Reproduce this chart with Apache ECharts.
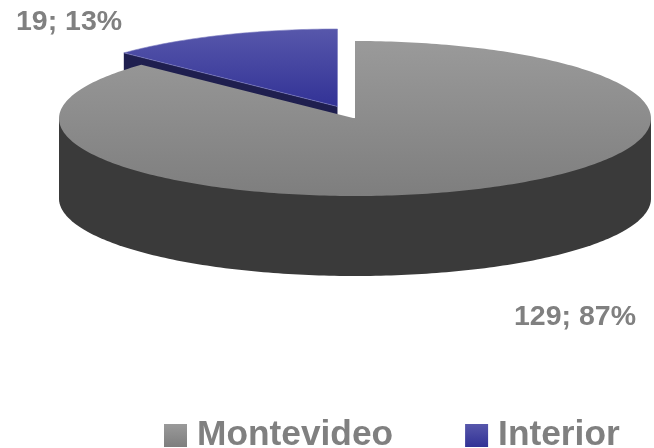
<!DOCTYPE html>
<html>
<head>
<meta charset="utf-8">
<style>html,body{margin:0;padding:0;background:#fff}#c{width:654px;height:448px}</style>
<script src="https://cdn.jsdelivr.net/npm/echarts@6/dist/echarts.min.js"></script>
</head>
<body>
<div id="c"></div>
<script>
var categories = ['Montevideo', 'Interior'];
var values = [129, 19];
var total = values[0] + values[1];

var CX = 355, CY = 118.5, RX = 296, RY = 77.5, DEPTH = 80;
var FONT = '"Liberation Sans", Arial, sans-serif';
var TEXT = '#808080';

function pt(deg, dx, dy) {
  var a = deg * Math.PI / 180;
  return [CX + dx + RX * Math.sin(a), CY + dy - RY * Math.cos(a)];
}
function arc(from, to, dx, dy) {
  var out = [], n = Math.ceil(Math.abs(to - from));
  for (var i = 0; i <= n; i++) out.push(pt(from + (to - from) * i / n, dx, dy));
  return out;
}
function grad(a, b) {
  return { type: 'linear', x: 0, y: 0, x2: 0, y2: 1, colorStops: [{ offset: 0, color: a }, { offset: 1, color: b }] };
}
var grayFill = grad('#9a9a9a', '#7e7e7e');
var blueFill = grad('#5757ab', '#323296');

var chart = echarts.init(document.getElementById('c'), null, { renderer: 'canvas' });

function labelFor(i) {
  return values[i] + '; ' + Math.round(values[i] / total * 100) + '%';
}

chart.setOption({
  animation: false,
  backgroundColor: '#fff',
  legend: {
    left: 159, top: 413, orient: 'horizontal',
    itemWidth: 23, itemHeight: 23, itemGap: 72,
    selectedMode: false,
    icon: 'rect',
    data: [
      { name: categories[0], itemStyle: { color: grayFill } },
      { name: categories[1], itemStyle: { color: blueFill } }
    ],
    textStyle: { fontFamily: FONT, fontWeight: 'bold', fontSize: 35.3, color: TEXT, padding: [0, 0, 0, 5] }
  },
  series: [
    {
      type: 'custom', name: categories[0], coordinateSystem: 'none', z: 3,
      itemStyle: { color: grayFill },
      data: [values[0]],
      renderItem: function (params, api) {
        var sweep = api.value(0) / total * 360;
        var wall = [pt(270, 0, 0)].concat(arc(270, 90, 0, DEPTH), [pt(90, 0, 0)]);
        var top = [[CX, CY]].concat(arc(0, sweep, 0, 0));
        return { type: 'group', children: [
          { type: 'polygon', shape: { points: wall }, style: { fill: '#3a3a3a' } },
          { type: 'polygon', shape: { points: top }, style: { fill: grayFill } },
          { type: 'text', x: 636, y: 317.5, style: { text: labelFor(0), fill: TEXT, font: 'bold 28.5px ' + FONT, textAlign: 'right', textVerticalAlign: 'middle' } }
        ] };
      }
    },
    {
      type: 'custom', name: categories[1], coordinateSystem: 'none', z: 2,
      itemStyle: { color: blueFill },
      data: [values[1]],
      renderItem: function (params, api) {
        var sweep = api.value(0) / total * 360;
        var dx = -17.5, dy = -12;
        var from = 360 - sweep;
        var apex = [CX + dx, CY + dy];
        var tip = pt(from, dx, dy);
        var wall = [tip, apex, [apex[0], apex[1] + DEPTH], [tip[0], tip[1] + DEPTH]];
        var top = [apex].concat(arc(from, 360, dx, dy));
        return { type: 'group', children: [
          { type: 'polygon', shape: { points: wall }, style: { fill: '#1f1f4f' } },
          { type: 'polygon', shape: { points: top }, style: { fill: blueFill, stroke: '#7c7cc0', lineWidth: 0.6 } },
          { type: 'text', x: 16, y: 22.5, style: { text: labelFor(1), fill: TEXT, font: 'bold 28.5px ' + FONT, textAlign: 'left', textVerticalAlign: 'middle' } }
        ] };
      }
    }
  ]
});
</script>
</body>
</html>
